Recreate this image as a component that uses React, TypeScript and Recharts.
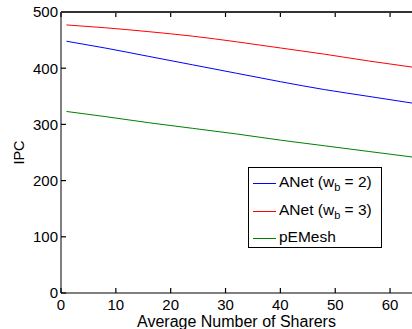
import { Line, LineChart, XAxis, YAxis } from "recharts";

const sharers = [1, 8, 16, 24, 32, 40, 48, 56, 64];
const anetWb2 = [448, 436, 421, 406, 391, 376, 362, 350, 338];
const anetWb3 = [477, 472, 465, 457, 447, 436, 425, 413, 402];
const pemesh = [323, 314, 303, 293, 283, 272, 262, 252, 242];

const xTicks = [0, 10, 20, 30, 40, 50, 60];
const yTicks = [0, 100, 200, 300, 400, 500];

const data = sharers.map((s, i) => ({
  sharers: s,
  wb2: anetWb2[i],
  wb3: anetWb3[i],
  pemesh: pemesh[i],
}));

const FONT = '"Liberation Sans", Arial, Helvetica, sans-serif';
const PLOT_TOP = 12;
const PLOT_LEFT = 61;

// MATLAB-style inward ticks: the mark is drawn by the tick renderer itself
function XTick({ x, y, payload }: any) {
  const axisY = y - 6;
  return (
    <g>
      <path d={`M${x},${axisY}V${axisY - 5}`} stroke="#000" strokeWidth={1.2} />
      <path d={`M${x},${PLOT_TOP}V${PLOT_TOP + 5}`} stroke="#000" strokeWidth={1.2} />
      <text x={x} y={y} dy="0.71em" textAnchor="middle" fontSize={15} fontFamily={FONT} fill="#000">
        {payload.value}
      </text>
    </g>
  );
}

function YTick({ x, y, payload }: any) {
  const axisX = x + 3;
  return (
    <g>
      <path d={`M${axisX},${y}H${axisX + 5}`} stroke="#000" strokeWidth={1.2} />
      <text x={x} y={y} dy="0.355em" textAnchor="end" fontSize={15} fontFamily={FONT} fill="#000">
        {payload.value}
      </text>
    </g>
  );
}

const legendRows = [
  { color: "#0000ff", label: "ANet (w", wb: "2", center: 15 },
  { color: "#ff0000", label: "ANet (w", wb: "3", center: 43 },
  { color: "#008000", label: "pEMesh", wb: "", center: 70 },
];

function LegendBox() {
  return (
    <div
      style={{
        position: "absolute",
        left: 248,
        top: 167,
        border: "1px solid #000",
        background: "#fff",
        width: 134,
        height: 81,
        boxSizing: "border-box",
        fontFamily: FONT,
        fontSize: 15.5,
        color: "#000",
      }}
    >
      {legendRows.map((r) => (
        <div key={r.color}>
          <div
            style={{
              position: "absolute",
              left: 4,
              top: r.center,
              width: 23,
              height: 1,
              background: r.color,
            }}
          />
          <div
            style={{
              position: "absolute",
              left: 30,
              top: r.center - 10,
              lineHeight: "18px",
              whiteSpace: "nowrap",
            }}
          >
            {r.wb ? (
              <>
                {r.label}
                <sub style={{ fontSize: 11, lineHeight: 0 }}>b</sub> = {r.wb})
              </>
            ) : (
              r.label
            )}
          </div>
        </div>
      ))}
    </div>
  );
}

export default function App() {
  return (
    <div style={{ position: "absolute", left: 0, top: 0, width: 412, height: 329, background: "#fff" }}>
      <LineChart
        width={412}
        height={329}
        data={data}
        margin={{ top: PLOT_TOP, right: 0, left: 0, bottom: 0 }}
      >
        <XAxis
          dataKey="sharers"
          type="number"
          domain={[0, 64]}
          ticks={xTicks}
          allowDataOverflow
          height={36}
          stroke="#000"
          tickLine={false}
          tickSize={0}
          tickMargin={6}
          tick={<XTick />}
          label={({ viewBox }: any) => (
            <text
              x={viewBox.x + viewBox.width / 2}
              y={327}
              textAnchor="middle"
              fontSize={16}
              fontFamily={FONT}
              fill="#000"
            >
              Average Number of Sharers
            </text>
          )}
        />
        <YAxis
          type="number"
          domain={[0, 500]}
          ticks={yTicks}
          width={PLOT_LEFT}
          stroke="#000"
          tickLine={false}
          tickSize={0}
          tickMargin={3}
          tick={<YTick />}
          label={({ viewBox }: any) => (
            <text
              x={19}
              y={viewBox.y + viewBox.height / 2}
              transform={`rotate(-90 19 ${viewBox.y + viewBox.height / 2})`}
              textAnchor="middle"
              dominantBaseline="central"
              fontSize={14.5}
              fontFamily={FONT}
              fill="#000"
            >
              IPC
            </text>
          )}
        />
        <Line
          dataKey="wb2"
          stroke="#0000ff"
          strokeWidth={1}
          dot={false}
          type="monotone"
          isAnimationActive={false}
        />
        <Line
          dataKey="wb3"
          stroke="#ff0000"
          strokeWidth={1}
          dot={false}
          type="monotone"
          isAnimationActive={false}
        />
        <Line
          dataKey="pemesh"
          stroke="#008000"
          strokeWidth={1}
          dot={false}
          type="monotone"
          isAnimationActive={false}
        />
      </LineChart>
      {/* top frame of the axes box */}
      <div
        style={{
          position: "absolute",
          left: PLOT_LEFT,
          top: PLOT_TOP - 1,
          width: 412 - PLOT_LEFT,
          height: 0,
          borderTop: "2px solid #333",
        }}
      />
      <LegendBox />
    </div>
  );
}
